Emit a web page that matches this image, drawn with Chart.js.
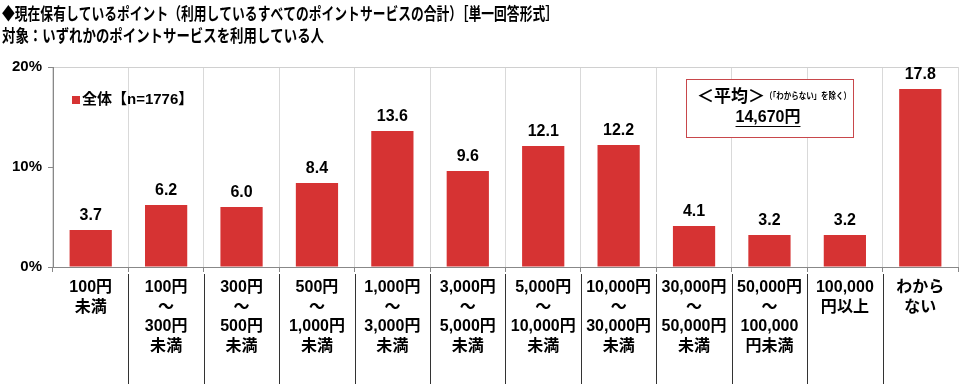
<!DOCTYPE html>
<html>
<head>
<meta charset="utf-8">
<script src="https://cdn.jsdelivr.net/npm/chart.js@4"></script>
<style>
  html, body { margin: 0; padding: 0; background: #fff; }
  #wrap { width: 960px; height: 384px; position: relative; }
</style>
</head>
<body>
<div id="wrap"><canvas id="chart" width="960" height="384"></canvas></div>
<script>
const titleLines = [
    '◆現在保有しているポイント（利用しているすべてのポイントサービスの合計）［単一回答形式］',
    '対象：いずれかのポイントサービスを利用している人'
];
const categories = [
    ['100円', '未満'],
    ['100円', '～', '300円', '未満'],
    ['300円', '～', '500円', '未満'],
    ['500円', '～', '1,000円', '未満'],
    ['1,000円', '～', '3,000円', '未満'],
    ['3,000円', '～', '5,000円', '未満'],
    ['5,000円', '～', '10,000円', '未満'],
    ['10,000円', '～', '30,000円', '未満'],
    ['30,000円', '～', '50,000円', '未満'],
    ['50,000円', '～', '100,000', '円未満'],
    ['100,000', '円以上'],
    ['わから', 'ない']
];
const seriesName = '全体【n=1776】';
const values = [3.7, 6.2, 6.0, 8.4, 13.6, 9.6, 12.1, 12.2, 4.1, 3.2, 3.2, 17.8];
const yTicks = [0, 10, 20];
const avgHead = '＜平均＞';
const avgNote = '（「わからない」を除く）';
const avgValue = '14,670円';

const RED = '#d63333';
const FONT = '"Liberation Sans", "Noto Sans CJK JP", sans-serif';

const extras = {
    id: 'extras',
    afterDraw(chart) {
        const ctx = chart.ctx;
        const area = chart.chartArea;
        const x = chart.scales.x;
        ctx.save();

        // title
        ctx.fillStyle = '#000';
        ctx.textBaseline = 'middle';
        ctx.textAlign = 'left';
        ctx.font = 'bold 17px ' + FONT;
        ctx.fillText(titleLines[0], 2, 15, 556);
        ctx.fillText(titleLines[1], 2, 37, 322);

        // separators below axis
        ctx.strokeStyle = '#333';
        ctx.lineWidth = 1;
        for (let i = 1; i < values.length; i++) {
            const px = Math.round((x.getPixelForValue(i - 1) + x.getPixelForValue(i)) / 2) + 0.5;
            ctx.beginPath();
            ctx.moveTo(px, area.bottom + 7);
            ctx.lineTo(px, 384);
            ctx.stroke();
        }

        // value labels
        ctx.fillStyle = '#000';
        ctx.textAlign = 'center';
        ctx.textBaseline = 'alphabetic';
        ctx.font = 'bold 16px ' + FONT;
        const meta = chart.getDatasetMeta(0);
        meta.data.forEach((bar, i) => {
            ctx.fillText(values[i].toFixed(1), bar.x, bar.y - 10);
        });

        // legend
        ctx.fillStyle = RED;
        ctx.fillRect(72, 96, 8, 8);
        ctx.fillStyle = '#000';
        ctx.textAlign = 'left';
        ctx.textBaseline = 'middle';
        ctx.font = 'bold 15px ' + FONT;
        ctx.fillText(seriesName, 82, 100);

        // average box
        ctx.fillStyle = '#fff';
        ctx.fillRect(686, 79, 168, 59);
        ctx.strokeStyle = '#c8474b';
        ctx.strokeRect(686.5, 79.5, 167, 58);
        ctx.fillStyle = '#000';
        ctx.font = 'bold 17px ' + FONT;
        ctx.fillText(avgHead, 697, 97);
        const hw = ctx.measureText(avgHead).width;
        ctx.font = 'bold 9px ' + FONT;
        ctx.fillText(avgNote, 697 + hw, 97, 851 - 697 - hw);
        ctx.font = 'bold 16px ' + FONT;
        ctx.textAlign = 'center';
        ctx.fillText(avgValue, 768, 118);
        const vw = ctx.measureText(avgValue).width;
        ctx.fillRect(768 - vw / 2, 126, vw, 1);

        ctx.restore();
    }
};

new Chart(document.getElementById('chart'), {
    type: 'bar',
    data: {
        labels: categories,
        datasets: [{
            label: seriesName,
            data: values,
            backgroundColor: RED,
            barPercentage: 0.56,
            categoryPercentage: 1.0
        }]
    },
    options: {
        responsive: false,
        animation: false,
        layout: { padding: { top: 67, right: 2, left: 0, bottom: 0 } },
        plugins: {
            legend: { display: false },
            tooltip: { enabled: false }
        },
        scales: {
            x: {
                grid: {
                    offset: true,
                    color: '#d9d9d9',
                    tickColor: '#888',
                    tickLength: 5
                },
                border: { color: '#888' },
                ticks: {
                    color: '#000',
                    font: { family: FONT, size: 16, weight: 'bold', lineHeight: 1.22 },
                    padding: 6,
                    maxRotation: 0,
                    autoSkip: false
                },
                afterFit(scale) { scale.height = 117; }
            },
            y: {
                min: 0,
                max: 20,
                afterBuildTicks(scale) {
                    scale.ticks = yTicks.map(v => ({ value: v }));
                },
                grid: {
                    color: ctx => ctx.tick && ctx.tick.value === 20 ? '#d0d0d0' : 'rgba(0,0,0,0)',
                    tickColor: '#888',
                    tickLength: 5
                },
                border: { color: '#888' },
                ticks: {
                    color: '#000',
                    font: { family: FONT, size: 15, weight: 'bold' },
                    padding: 6,
                    callback: v => v + '%'
                },
                afterFit(scale) { scale.width = 53; }
            }
        }
    },
    plugins: [extras]
});
</script>
</body>
</html>
